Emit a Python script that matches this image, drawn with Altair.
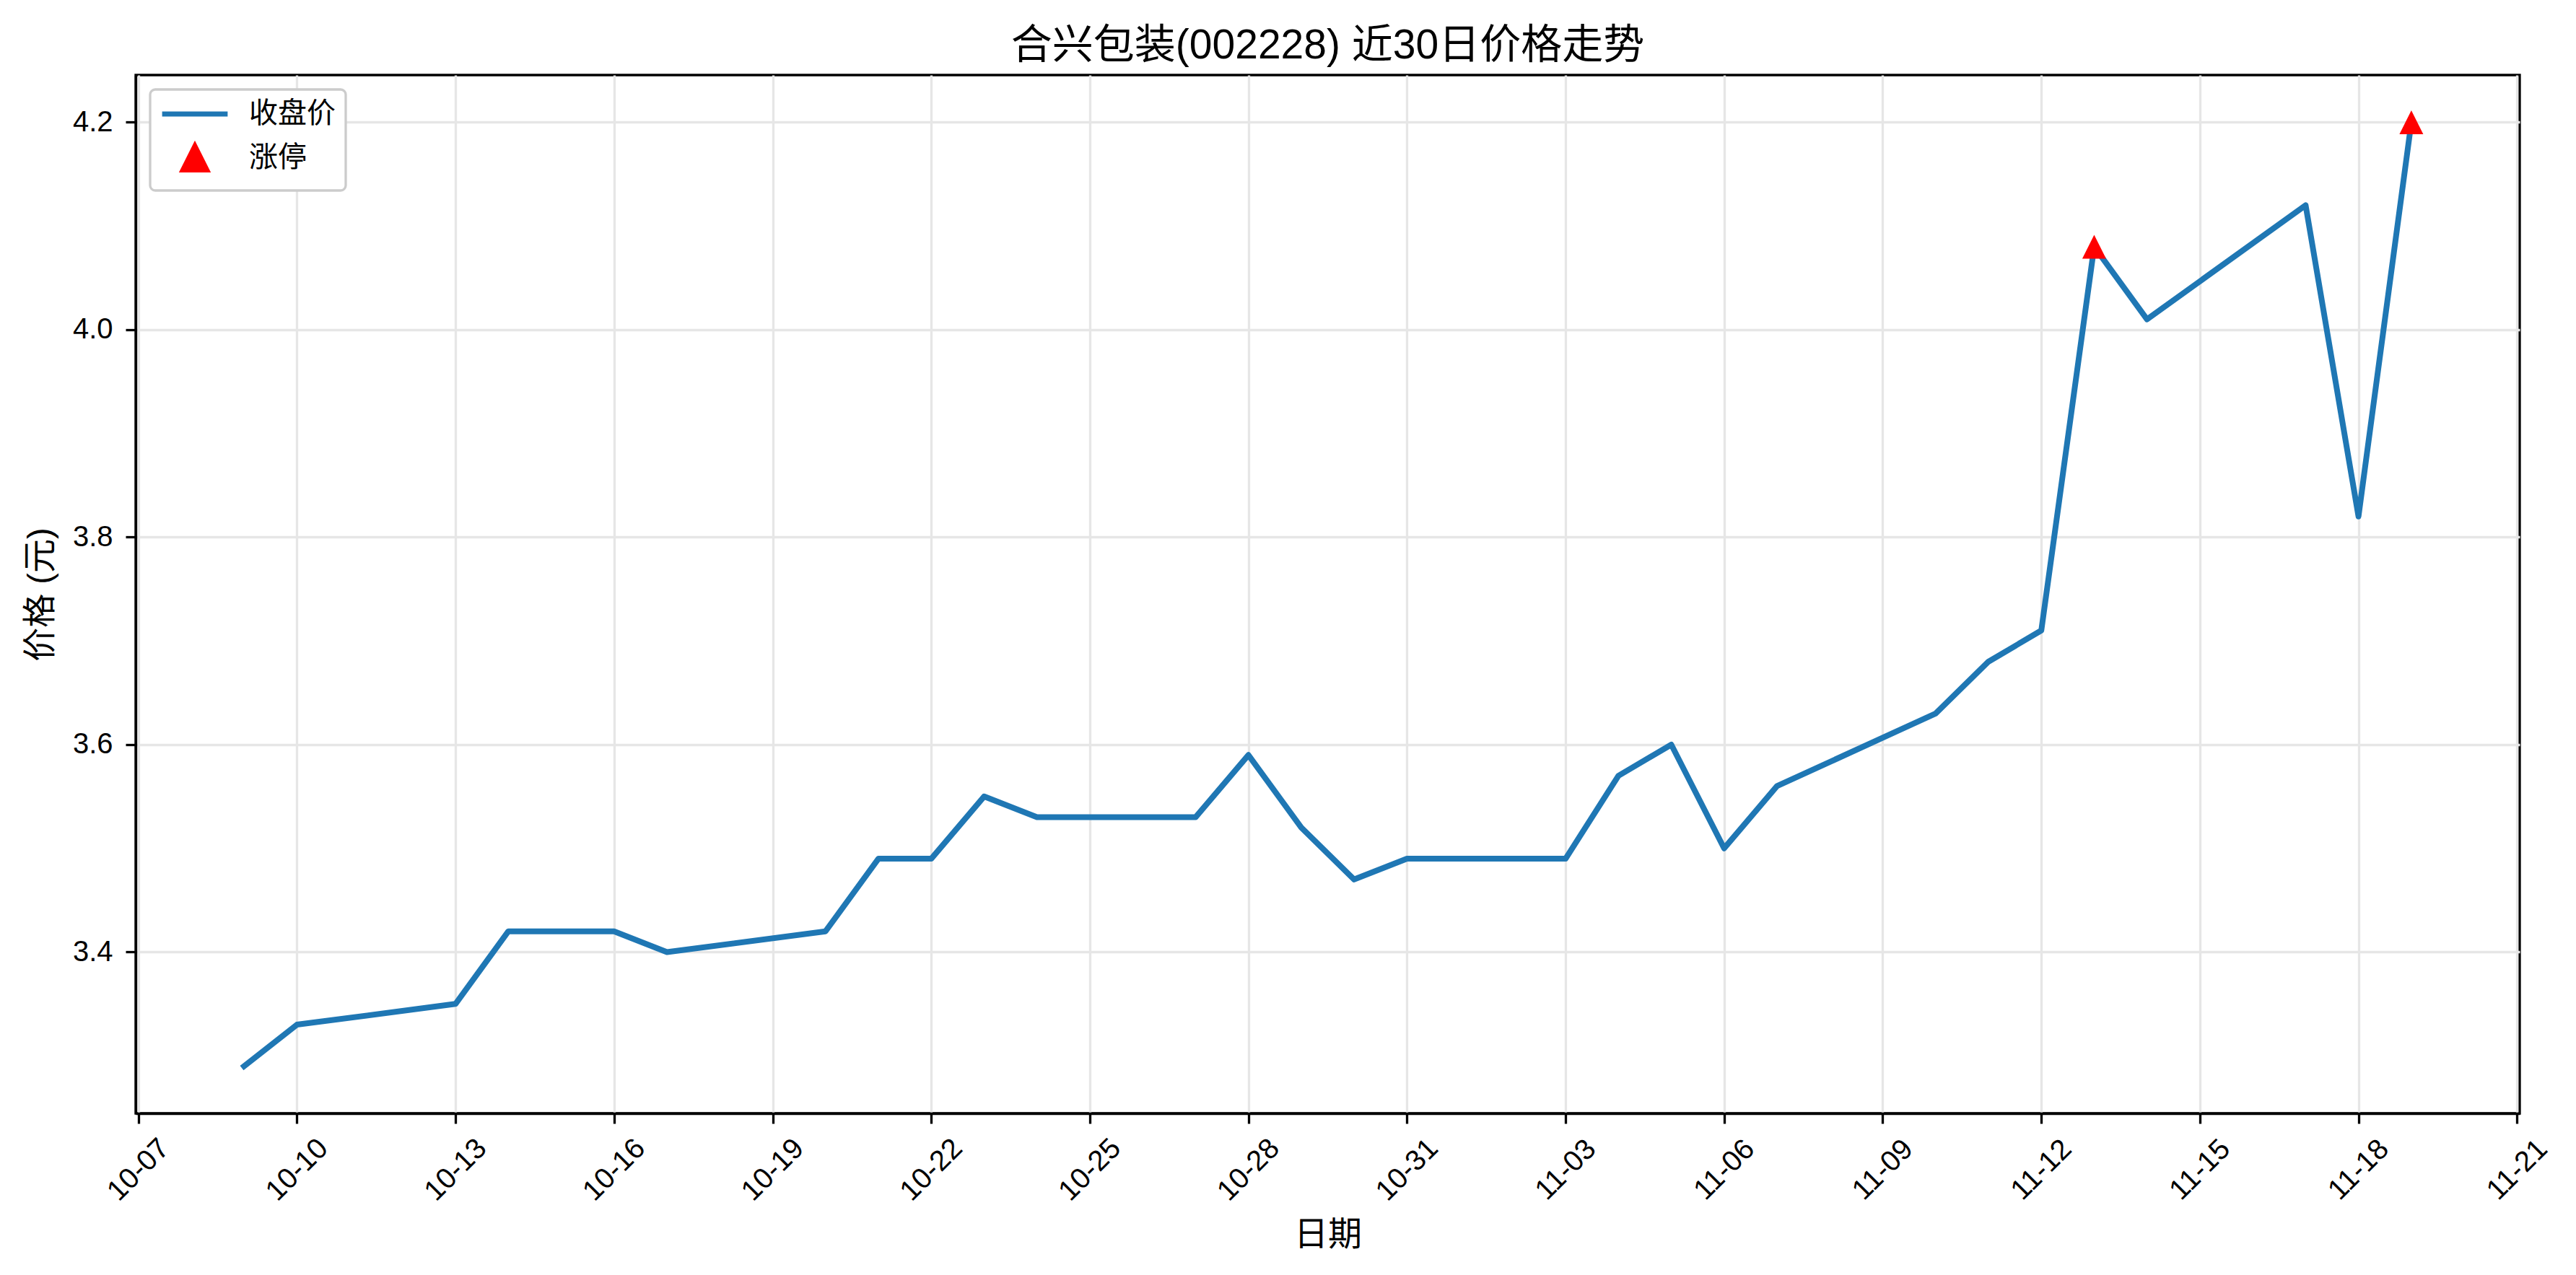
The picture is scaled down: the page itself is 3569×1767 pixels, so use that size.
import altair as alt
import pandas as pd
from datetime import datetime, timezone

# ---- data ----
dates = ["2025-10-09", "2025-10-10", "2025-10-13", "2025-10-14", "2025-10-15",
         "2025-10-16", "2025-10-17", "2025-10-20", "2025-10-21", "2025-10-22",
         "2025-10-23", "2025-10-24", "2025-10-27", "2025-10-28", "2025-10-29",
         "2025-10-30", "2025-10-31", "2025-11-03", "2025-11-04", "2025-11-05",
         "2025-11-06", "2025-11-07", "2025-11-10", "2025-11-11", "2025-11-12",
         "2025-11-13", "2025-11-14", "2025-11-17", "2025-11-18", "2025-11-19"]
prices = [3.29, 3.33, 3.35, 3.42, 3.42,
          3.42, 3.40, 3.42, 3.49, 3.49,
          3.55, 3.53, 3.53, 3.59, 3.52,
          3.47, 3.49, 3.49, 3.57, 3.60,
          3.50, 3.56, 3.63, 3.68, 3.71,
          4.08, 4.01, 4.12, 3.82, 4.20]
limit_up_dates = ["2025-11-13", "2025-11-19"]
tick_dates = ["2025-10-07", "2025-10-10", "2025-10-13", "2025-10-16", "2025-10-19",
              "2025-10-22", "2025-10-25", "2025-10-28", "2025-10-31", "2025-11-03",
              "2025-11-06", "2025-11-09", "2025-11-12", "2025-11-15", "2025-11-18",
              "2025-11-21"]
y_ticks = [3.4, 3.6, 3.8, 4.0, 4.2]
series_names = ["收盘价", "涨停"]
title_text = "合兴包装(002228) 近30日价格走势"
x_title = "日期"
y_title = "价格 (元)"


def ms(s):
    return int(datetime.strptime(s, "%Y-%m-%d").replace(tzinfo=timezone.utc).timestamp() * 1000)


line_df = pd.DataFrame({"date": [ms(d) for d in dates], "price": prices,
                        "series": series_names[0]})
lu_price = dict(zip(dates, prices))
pt_df = pd.DataFrame({"date": [ms(d) for d in limit_up_dates],
                      "price": [lu_price[d] for d in limit_up_dates],
                      "series": series_names[1]})

# matplotlib-like 5% margins
x0, x1 = ms(dates[0]), ms(dates[-1])
xpad = (x1 - x0) * 0.05
ymin, ymax = min(prices), max(prices)
ypad = (ymax - ymin) * 0.05

FONT = "Liberation Sans, Noto Sans CJK SC"
BLUE = "#1f77b4"
RED = "#ff0000"

LINE_PATH = "M-2.75,0L2.75,0"
TRI_PATH = "M0,-1L1,1L-1,1Z"

x_enc = alt.X("date:T",
              scale=alt.Scale(type="utc", domain=[x0 - xpad, x1 + xpad]),
              axis=alt.Axis(values=[ms(d) for d in tick_dates], format="%m-%d",
                            labelAngle=-45, labelAlign="center", labelBaseline="middle",
                            labelPadding=64, labelFlush=False, labelOverlap=False,
                            title=x_title, titleY=168, titleBaseline="middle"))
y_enc = alt.Y("price:Q",
              scale=alt.Scale(domain=[ymin - ypad, ymax + ypad], nice=False, zero=False),
              axis=alt.Axis(values=y_ticks, format=".1f", labelPadding=18,
                            title=y_title, titleX=-132, titleBaseline="middle"))

color_scale = alt.Scale(domain=series_names, range=[BLUE, RED])
shape_scale = alt.Scale(domain=series_names, range=[LINE_PATH, TRI_PATH])
legend = alt.Legend(title=None)

line = alt.Chart(line_df).mark_line(strokeWidth=8, strokeJoin="round", strokeCap="square").encode(
    x=x_enc, y=y_enc,
    color=alt.Color("series:N", scale=color_scale, legend=legend),
)

pts = alt.Chart(pt_df).mark_point(filled=True, opacity=1, size=1089, strokeWidth=0).encode(
    x=x_enc, y=y_enc,
    color=alt.Color("series:N", scale=color_scale, legend=legend),
    shape=alt.Shape("series:N", scale=shape_scale, legend=legend),
)

chart = alt.layer(line, pts).properties(
    width=3303, height=1439,
    title=alt.TitleParams(title_text, fontSize=57, font=FONT, fontWeight="normal",
                          color="black", anchor="middle", offset=11),
    autosize=alt.AutoSizeParams(type="none"),
    padding={"left": 180, "top": 96, "right": 70, "bottom": 216},
).configure(
    background="white",
).configure_view(
    stroke="black", strokeWidth=3.3,
).configure_axis(
    labelFont=FONT, titleFont=FONT, labelFontSize=40, titleFontSize=47,
    labelColor="black", titleColor="black", titleFontWeight="normal",
    domainColor="black", domainWidth=3.3,
    tickColor="black", tickWidth=3.3, tickSize=14,
    gridColor="#e6e6e6", gridWidth=3.3,
).configure_legend(
    orient="top-left", offset=20, padding=14,
    strokeColor="#cccccc", strokeWidth=3.3, cornerRadius=7, fillColor="white",
    labelFont=FONT, labelFontSize=40, labelColor="black",
    symbolSize=1089, symbolStrokeWidth=7, symbolOffset=28, labelOffset=55,
    rowPadding=10, symbolOpacity=1,
)

chart.save("out.html", embed_options={"renderer": "svg", "actions": False})
